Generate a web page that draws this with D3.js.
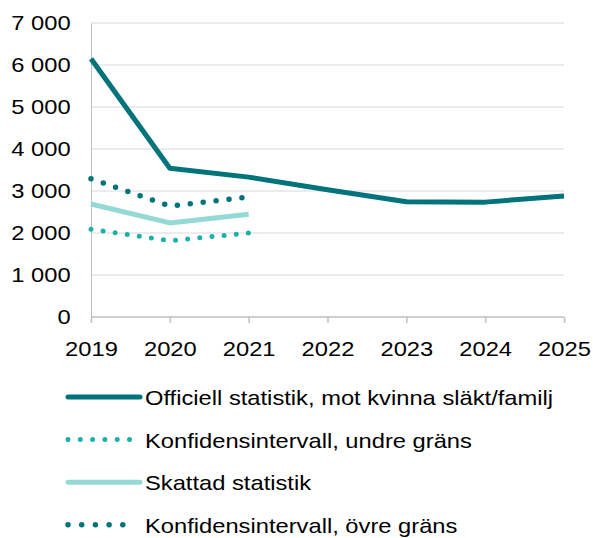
<!DOCTYPE html>
<html>
<head>
<meta charset="utf-8">
<script src="https://cdn.jsdelivr.net/npm/d3@7"></script>
<style>
  body { margin: 0; background: #fff; }
  svg { display: block; font-family: "Liberation Sans", Arial, sans-serif; }
</style>
</head>
<body>
<svg id="chart" width="593" height="538"></svg>
<script>
// Years on the x axis
const years = [2019, 2020, 2021, 2022, 2023, 2024, 2025];
// Official statistics, violence against women by relatives/family
const official = [6150, 3540, 3330, 3030, 2745, 2735, 2880];
// Estimated statistics and its confidence interval (2019–2021)
const estYears = [2019, 2020, 2021];
const estimated = [2690, 2240, 2445];
const ciLower = [2090, 1815, 2000];
const ciUpper = [3290, 2640, 2860];
const yTicks = [0, 1000, 2000, 3000, 4000, 5000, 6000, 7000];

const legendLabels = [
  "Officiell statistik, mot kvinna släkt/familj",
  "Konfidensintervall, undre gräns",
  "Skattad statistik",
  "Konfidensintervall, övre gräns"
];

const colors = {
  official: "#00747A",
  lower: "#1AB0AB",
  est: "#95D9D6",
  upper: "#00747A"
};

const FONT = 21;      // label font size
const WIDEN = 1.13;   // horizontal stretch applied to all labels

const svg = d3.select("#chart");
const margin = { left: 91, right: 29, top: 23, bottom: 221 };
const W = 593, H = 538;

const x = d3.scaleLinear().domain([2019, 2025]).range([margin.left, W - margin.right]);
const y = d3.scaleLinear().domain([0, 7000]).range([H - margin.bottom, margin.top]);

// Gridlines
svg.append("g")
  .selectAll("line")
  .data(yTicks.filter(d => d > 0))
  .join("line")
  .attr("x1", x(2019)).attr("x2", x(2025))
  .attr("y1", d => y(d)).attr("y2", d => y(d))
  .attr("stroke", "#d9d9d9").attr("stroke-width", 1);

// Y axis
const yAxis = svg.append("g")
  .attr("transform", `translate(${x(2019)},0)`)
  .call(d3.axisLeft(y).tickValues(yTicks).tickSize(0).tickPadding(18)
    .tickFormat(d => d3.format(",")(d).replace(/,/g, " ")));
yAxis.select(".domain").attr("stroke", "#bfbfbf").attr("stroke-width", 1);
yAxis.selectAll("text")
  .attr("font-size", FONT).attr("fill", "#000")
  .attr("font-family", "Liberation Sans, Arial, sans-serif")
  .attr("transform", `scale(${WIDEN},1)`);

// X axis
const xAxis = svg.append("g")
  .attr("transform", `translate(0,${y(0)})`)
  .call(d3.axisBottom(x).tickValues(years).tickSize(6).tickPadding(10)
    .tickFormat(d3.format("d")));
xAxis.select(".domain").attr("stroke", "#bfbfbf").attr("stroke-width", 1.5)
  .attr("d", `M${x(2019)},0H${x(2025)}`);
xAxis.selectAll(".tick line").attr("stroke", "#bfbfbf").attr("stroke-width", 1.5);
xAxis.selectAll("text")
  .attr("font-size", FONT).attr("fill", "#000")
  .attr("font-family", "Liberation Sans, Arial, sans-serif")
  .attr("y", 39).attr("dy", null)
  .attr("transform", `scale(${WIDEN},1)`);

const line = d3.line().x(d => x(d[0])).y(d => y(d[1]));

function drawSeries(xs, vals, color, width, dash) {
  const p = svg.append("path")
    .datum(xs.map((yr, i) => [yr, vals[i]]))
    .attr("d", line)
    .attr("fill", "none")
    .attr("stroke", color)
    .attr("stroke-width", width)
    .attr("stroke-linejoin", "round");
  if (dash) p.attr("stroke-dasharray", dash).attr("stroke-linecap", "round");
  return p;
}

drawSeries(estYears, ciLower, colors.lower, 5, "0,12.2");
drawSeries(estYears, ciUpper, colors.upper, 5.5, "0,13");
drawSeries(estYears, estimated, colors.est, 5);
drawSeries(years, official, colors.official, 5);

// Legend
const legendItems = [
  { label: legendLabels[0], color: colors.official, dash: null, w: 5, x2: 140 },
  { label: legendLabels[1], color: colors.lower, dash: "0,12.3", w: 5, x2: 131 },
  { label: legendLabels[2], color: colors.est, dash: null, w: 5, x2: 140 },
  { label: legendLabels[3], color: colors.upper, dash: "0,13.7", w: 5.5, x2: 124 }
];
const lg = svg.append("g");
legendItems.forEach((it, i) => {
  const yy = 397 + i * 42.6;
  const l = lg.append("line")
    .attr("x1", 68).attr("x2", it.x2)
    .attr("y1", yy).attr("y2", yy)
    .attr("stroke", it.color).attr("stroke-width", it.w)
    .attr("stroke-linecap", "round");
  if (it.dash) l.attr("stroke-dasharray", it.dash);
  lg.append("text")
    .attr("transform", `translate(145,${yy + 8}) scale(${WIDEN},1)`)
    .attr("font-size", FONT).attr("fill", "#000")
    .text(it.label);
});
</script>
</body>
</html>
